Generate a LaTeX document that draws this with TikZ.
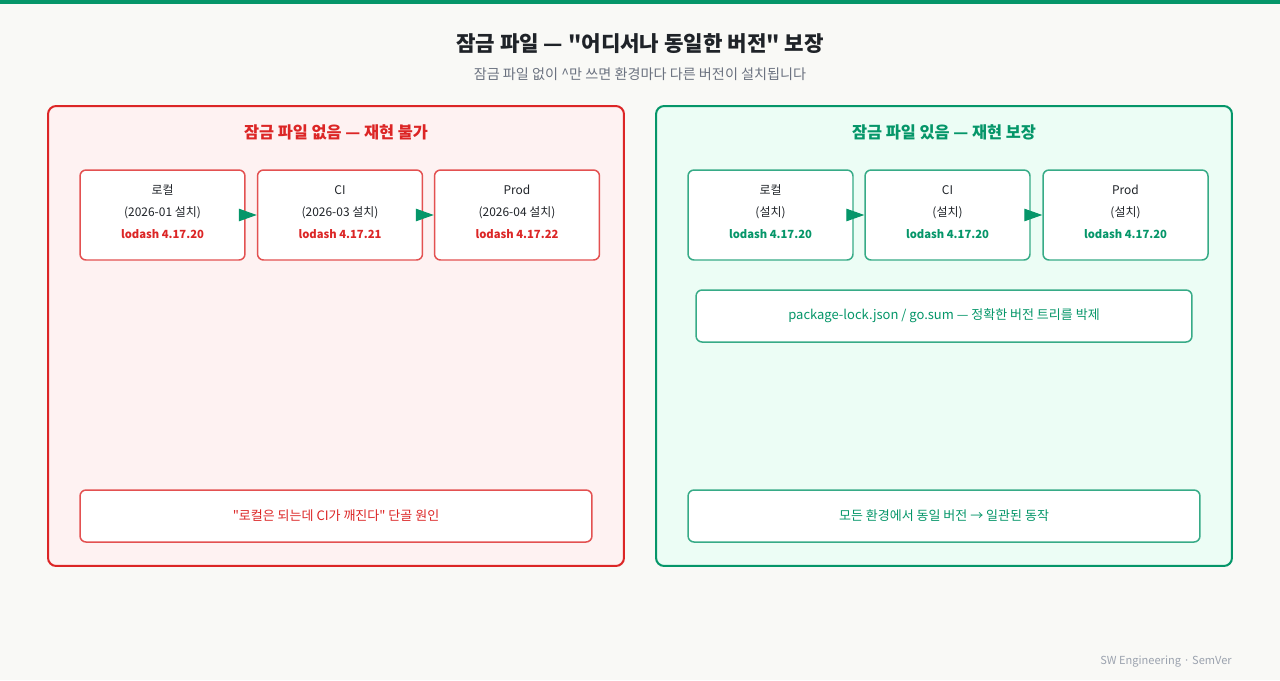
\documentclass[tikz,border=0pt]{standalone}
\usepackage{fontspec}
\setmainfont[Ligatures=TeXOff]{Noto Sans CJK KR}
\usepackage{tikz}
\usepackage{xcolor}
\usetikzlibrary{arrows.meta,positioning}
\definecolor{page}{HTML}{F9F9F6}
\definecolor{ink}{HTML}{1F2328}
\definecolor{muted}{HTML}{6B7280}
\definecolor{faint}{HTML}{9CA3AF}
\definecolor{bad}{HTML}{DC2626}
\definecolor{badbg}{HTML}{FEF2F2}
\definecolor{good}{HTML}{059669}
\definecolor{goodbg}{HTML}{ECFDF5}
\newcommand{\ver}[2]{{\fontsize{6.4}{12.5}\selectfont\bfseries\color{#1}lodash #2}}
\tikzset{
  panel/.style={draw=#1, fill=#1bg, rounded corners=0.16cm, line width=1.15pt,
                minimum width=11.52cm, minimum height=9.2cm, inner sep=0pt},
  envbox/.style={draw=#1!80, fill=white, rounded corners=0.12cm, line width=0.85pt,
                 minimum width=3.3cm, minimum height=1.8cm, inner sep=0pt},
  envtext/.style={align=center, inner sep=0pt, text=ink,
                  font=\fontsize{6.8}{12.5}\selectfont},
  notebox/.style={draw=#1!80, fill=white, rounded corners=0.12cm, line width=0.85pt,
                  minimum height=1.04cm, inner sep=0pt, text=#1,
                  font=\fontsize{7.4}{9}\selectfont},
  paneltitle/.style={font=\fontsize{9.3}{11}\selectfont\bfseries, text=#1},
  flow/.style={-{Triangle[length=0.36cm,width=0.25cm]}, draw=good, line width=0.6pt}
}
\begin{document}
\begin{tikzpicture}[x=0.02cm,y=-0.02cm]
  \fill[page] (0,0) rectangle (1280,680);
  \useasboundingbox (0,0) rectangle (1280,680);
  \fill[good] (0,0) rectangle (1280,4);
  % heading
  \node[font=\fontsize{12.05}{14}\selectfont\bfseries, text=ink] (title) at (640,44)
    {잠금 파일 — "어디서나 동일한 버전" 보장};
  \node[font=\fontsize{8.05}{10}\selectfont, text=muted] (subtitle) at (640,74)
    {잠금 파일 없이 \^{}만 쓰면 환경마다 다른 버전이 설치됩니다};
  % without lock file
  \node[panel=bad] (left) at (336,336) {};
  \node[paneltitle=bad] (lefttitle) at (336,132) {잠금 파일 없음 — 재현 불가};
  \node[envbox=bad] (l1) at (162.5,215) {};
  \node[envbox=bad] (l2) at (340,215) {};
  \node[envbox=bad] (l3) at (517,215) {};
  \node[envtext] (l1txt) at (162.5,212) {로컬\\(2026-01 설치)\\\ver{bad}{4.17.20}};
  \node[envtext] (l2txt) at (340,212) {CI\\(2026-03 설치)\\\ver{bad}{4.17.21}};
  \node[envtext] (l3txt) at (517,212) {Prod\\(2026-04 설치)\\\ver{bad}{4.17.22}};
  \draw[flow] (l1.east) -- (l2.west);
  \draw[flow] (l2.east) -- (l3.west);
  \node[notebox=bad, minimum width=10.24cm] (leftnote) at (336,516)
    {"로컬은 되는데 CI가 깨진다" 단골 원인};
  % with lock file
  \node[panel=good] (right) at (944,336) {};
  \node[paneltitle=good] (righttitle) at (944,132) {잠금 파일 있음 — 재현 보장};
  \node[envbox=good] (r1) at (770.5,215) {};
  \node[envbox=good] (r2) at (947.5,215) {};
  \node[envbox=good] (r3) at (1125.5,215) {};
  \node[envtext] (r1txt) at (770.5,212) {로컬\\(설치)\\\ver{good}{4.17.20}};
  \node[envtext] (r2txt) at (947.5,212) {CI\\(설치)\\\ver{good}{4.17.20}};
  \node[envtext] (r3txt) at (1125.5,212) {Prod\\(설치)\\\ver{good}{4.17.20}};
  \draw[flow] (r1.east) -- (r2.west);
  \draw[flow] (r2.east) -- (r3.west);
  \node[notebox=good, minimum width=9.92cm] (lockfile) at (944,316)
    {package-lock.json / go.sum — 정확한 버전 트리를 박제};
  \node[notebox=good, minimum width=10.24cm] (rightnote) at (944,516)
    {모든 환경에서 동일 버전 → 일관된 동작};
  % footer
  \node[anchor=east, inner sep=0pt, font=\fontsize{6.3}{8}\selectfont, text=faint] (footer) at (1232,662)
    {SW Engineering · SemVer};
\end{tikzpicture}
\end{document}
